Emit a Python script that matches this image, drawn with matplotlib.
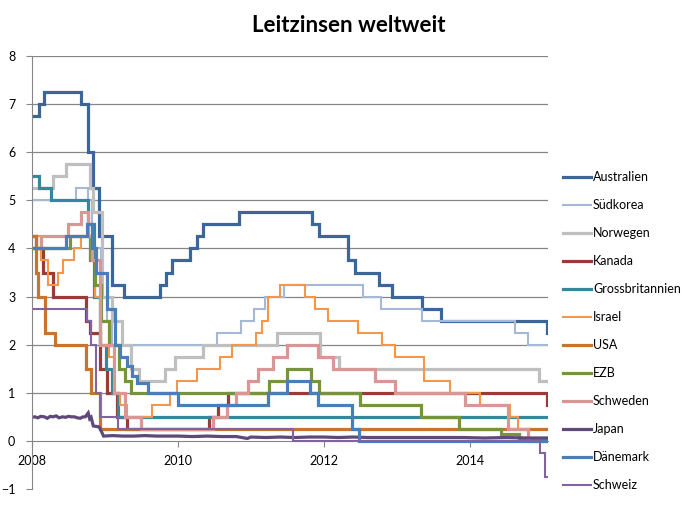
import matplotlib
matplotlib.use("Agg")
import matplotlib.pyplot as plt

plt.rcParams["font.family"] = ["Lato", "DejaVu Sans"]

X_END = 2015.07

# ---- data: change points (decimal year) and policy rates (%) ----
aus_t = [2008.0, 2008.10, 2008.17, 2008.67, 2008.77, 2008.84, 2008.92, 2009.09, 2009.26,
         2009.76, 2009.84, 2009.92, 2010.17, 2010.26, 2010.34, 2010.84, 2011.83, 2011.93,
         2012.33, 2012.43, 2012.75, 2012.93, 2013.35, 2013.60, 2015.05]
aus_v = [6.75, 7.0, 7.25, 7.0, 6.0, 5.25, 4.25, 3.25, 3.0,
         3.25, 3.5, 3.75, 4.0, 4.25, 4.5, 4.75, 4.5, 4.25,
         3.75, 3.5, 3.25, 3.0, 2.75, 2.5, 2.25]

kor_t = [2008.0, 2008.60, 2008.77, 2008.82, 2008.85, 2008.94, 2009.03, 2009.10, 2010.53,
         2010.87, 2011.04, 2011.19, 2011.45, 2012.53, 2012.78, 2013.35, 2014.62, 2014.79]
kor_v = [5.0, 5.25, 5.0, 4.25, 4.0, 3.0, 2.5, 2.0, 2.25,
         2.5, 2.75, 3.0, 3.25, 3.0, 2.75, 2.5, 2.25, 2.0]

nor_t = [2008.0, 2008.29, 2008.46, 2008.79, 2008.83, 2008.96, 2009.10, 2009.23, 2009.35,
         2009.46, 2009.82, 2009.96, 2010.34, 2011.36, 2011.95, 2012.20, 2014.94]
nor_v = [5.25, 5.5, 5.75, 5.25, 4.75, 3.0, 2.5, 2.0, 1.5,
         1.25, 1.5, 1.75, 2.0, 2.25, 1.75, 1.5, 1.25]

can_t = [2008.0, 2008.06, 2008.15, 2008.29, 2008.74, 2008.79, 2008.93, 2009.03, 2009.16,
         2009.30, 2010.42, 2010.55, 2010.68, 2015.05]
can_v = [4.25, 4.0, 3.5, 3.0, 2.5, 2.25, 1.5, 1.0, 0.5,
         0.25, 0.5, 0.75, 1.0, 0.75]

gbr_t = [2008.0, 2008.09, 2008.26, 2008.77, 2008.85, 2008.93, 2009.02, 2009.10, 2009.18]
gbr_v = [5.5, 5.25, 5.0, 4.5, 3.0, 2.0, 1.5, 1.0, 0.5]

isr_t = [2008.0, 2008.12, 2008.22, 2008.35, 2008.42, 2008.58, 2008.67, 2008.80, 2008.87,
         2008.95, 2009.05, 2009.12, 2009.20, 2009.30, 2009.64, 2009.89, 2009.98, 2010.26,
         2010.58, 2010.74, 2011.07, 2011.15, 2011.23, 2011.40, 2011.74, 2011.88, 2012.05,
         2012.47, 2012.80, 2012.97, 2013.37, 2013.73, 2014.14, 2014.55, 2014.66]
isr_v = [4.25, 3.75, 3.25, 3.5, 3.75, 4.0, 4.25, 3.75, 3.0,
         2.5, 1.75, 1.0, 0.75, 0.5, 0.75, 1.0, 1.25, 1.5,
         1.75, 2.0, 2.25, 2.5, 3.0, 3.25, 3.0, 2.75, 2.5,
         2.25, 2.0, 1.75, 1.25, 1.0, 0.75, 0.5, 0.25]

usa_t = [2008.0, 2008.05, 2008.08, 2008.18, 2008.31, 2008.74, 2008.81, 2008.93]
usa_v = [4.25, 3.5, 3.0, 2.25, 2.0, 1.5, 1.0, 0.25]

ezb_t = [2008.0, 2008.52, 2008.79, 2008.87, 2008.94, 2009.05, 2009.19, 2009.27, 2009.36,
         2011.25, 2011.50, 2011.82, 2011.93, 2012.50, 2013.33, 2013.85, 2014.42, 2014.67]
ezb_v = [4.0, 4.25, 3.75, 3.25, 2.5, 2.0, 1.5, 1.25, 1.0,
         1.25, 1.5, 1.25, 1.0, 0.75, 0.5, 0.25, 0.15, 0.05]

swe_t = [2008.0, 2008.12, 2008.49, 2008.67, 2008.77, 2008.82, 2008.93, 2009.12, 2009.27,
         2009.50, 2010.48, 2010.67, 2010.80, 2010.96, 2011.10, 2011.30, 2011.50, 2011.92,
         2012.12, 2012.70, 2012.97, 2013.93, 2014.52, 2014.80]
swe_v = [4.0, 4.25, 4.5, 4.75, 4.25, 3.75, 2.0, 1.0, 0.5,
         0.25, 0.5, 0.75, 1.0, 1.25, 1.5, 1.75, 2.0, 1.75,
         1.5, 1.25, 1.0, 0.75, 0.25, 0.0]

jpn_t = [2008.00, 2008.04, 2008.08, 2008.12, 2008.17, 2008.21, 2008.25, 2008.29, 2008.33,
         2008.37, 2008.42, 2008.46, 2008.50, 2008.54, 2008.58, 2008.62, 2008.66, 2008.70,
         2008.73, 2008.75, 2008.77, 2008.79, 2008.81, 2008.84, 2008.88, 2008.92, 2008.95,
         2008.98, 2009.10, 2009.25, 2009.40, 2009.55, 2009.70, 2009.85, 2010.00, 2010.20,
         2010.40, 2010.60, 2010.80, 2010.95, 2011.00, 2011.20, 2011.40, 2011.60, 2011.80,
         2012.00, 2012.20, 2012.40, 2012.60, 2012.80, 2013.00, 2013.30, 2013.60, 2013.90,
         2014.20, 2014.50, 2014.80, 2015.07]
jpn_v = [0.49, 0.50, 0.48, 0.51, 0.50, 0.47, 0.51, 0.50, 0.52,
         0.48, 0.50, 0.49, 0.51, 0.50, 0.50, 0.48, 0.47, 0.50,
         0.50, 0.54, 0.58, 0.46, 0.49, 0.31, 0.30, 0.29, 0.20,
         0.10, 0.11, 0.10, 0.10, 0.11, 0.10, 0.10, 0.10, 0.09,
         0.10, 0.09, 0.09, 0.05, 0.08, 0.07, 0.08, 0.07, 0.08,
         0.08, 0.07, 0.08, 0.07, 0.07, 0.07, 0.07, 0.07, 0.07,
         0.06, 0.07, 0.06, 0.06]

dnk_t = [2008.0, 2008.47, 2008.75, 2008.82, 2008.88, 2009.03, 2009.14, 2009.20, 2009.30,
         2009.37, 2009.44, 2009.59, 2010.00, 2011.23, 2011.50, 2011.81, 2011.92, 2012.38,
         2012.48]
dnk_v = [4.0, 4.25, 4.5, 4.0, 3.5, 2.75, 2.0, 1.75, 1.55,
         1.35, 1.2, 1.0, 0.75, 1.0, 1.25, 1.0, 0.75, 0.25,
         0.0]

che_t = [2008.0, 2008.75, 2008.81, 2008.88, 2008.93, 2009.18, 2011.58, 2014.96, 2015.03]
che_v = [2.75, 2.5, 2.0, 1.0, 0.5, 0.25, 0.0, -0.25, -0.75]

labels = ["Australien", "Südkorea", "Norwegen", "Kanada", "Grossbritannien", "Israel",
          "USA", "EZB", "Schweden", "Japan", "Dänemark", "Schweiz"]
colors = ["#3A6699", "#A5B8D6", "#BFBFBF", "#9A3B38", "#34879C", "#F79646",
          "#C8732E", "#77933C", "#DA9694", "#5F497A", "#4A7EBB", "#8064A2"]
widths = [2.3, 1.5, 2.3, 2.3, 2.3, 1.5, 2.3, 2.3, 2.3, 2.3, 2.3, 1.5]
step_series = {"Australien": (aus_t, aus_v), "Südkorea": (kor_t, kor_v),
               "Norwegen": (nor_t, nor_v), "Kanada": (can_t, can_v),
               "Grossbritannien": (gbr_t, gbr_v), "Israel": (isr_t, isr_v),
               "USA": (usa_t, usa_v), "EZB": (ezb_t, ezb_v),
               "Schweden": (swe_t, swe_v), "Dänemark": (dnk_t, dnk_v),
               "Schweiz": (che_t, che_v)}

fig = plt.figure(figsize=(6.98, 5.05), dpi=100)
ax = fig.add_axes([32 / 698, 1 - 489 / 505, (548 - 32) / 698, (489 - 56) / 505])

for lab, col, lw in zip(labels, colors, widths):
    if lab == "Japan":
        ax.plot(jpn_t, jpn_v, color=col, lw=lw, label=lab, solid_joinstyle="miter")
    else:
        t, v = step_series[lab]
        ax.step(list(t) + [X_END], list(v) + [v[-1]], where="post", color=col, lw=lw,
                label=lab, solid_joinstyle="miter")

ax.set_xlim(2008, X_END)
ax.set_ylim(-1, 8)
ax.set_yticks(range(-1, 9))
ax.set_xticks([2008, 2010, 2012, 2014])
ax.set_xticklabels(["2008", "2010", "2012", "2014"])
grid_col = "#868686"
ax.grid(axis="y", color=grid_col, lw=0.9)
ax.set_axisbelow(True)
ax.get_ygridlines()[0].set_visible(False)
ax.get_ygridlines()[1].set_visible(False)
for s in ["top", "right"]:
    ax.spines[s].set_visible(False)
ax.spines["bottom"].set_position(("data", 0))
ax.spines["bottom"].set_color(grid_col)
ax.spines["left"].set_color(grid_col)
ax.spines["bottom"].set_zorder(0.5)
ax.tick_params(axis="y", length=4, color=grid_col, labelsize=9, pad=8, labelcolor="black")
ax.tick_params(axis="x", length=4, color=grid_col, labelsize=9, pad=6, labelcolor="black")

fig.text(0.5, 1 - 25 / 505, "Leitzinsen weltweit", ha="center", va="center",
         fontsize=16, fontweight="bold")

handles, labs = ax.get_legend_handles_labels()
fig.legend(handles, labs, loc="upper left", bbox_to_anchor=(563 / 698, 1 - 171 / 505),
           frameon=False, fontsize=9, handlelength=2.2, handletextpad=0.2,
           labelspacing=1.28, borderpad=0, borderaxespad=0)

fig.savefig("out.png", dpi=100)
